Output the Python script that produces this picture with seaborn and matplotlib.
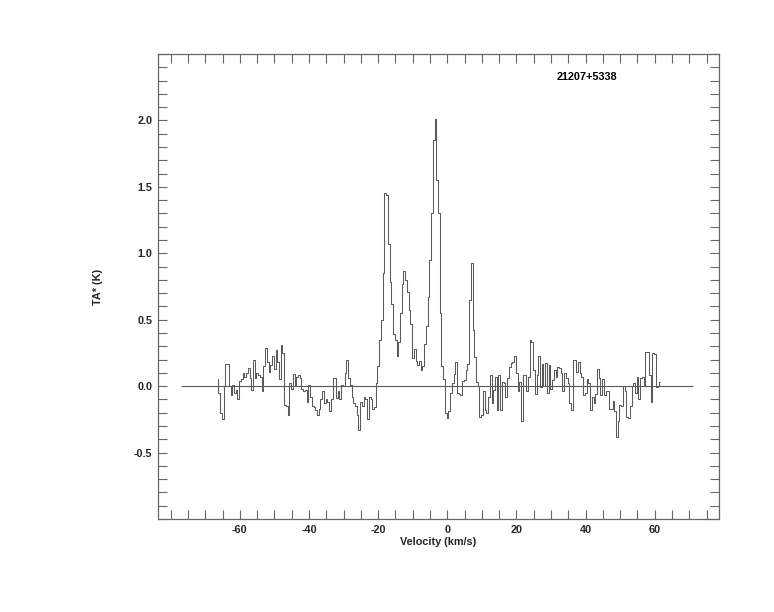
import numpy as np
import pandas as pd
import seaborn as sns
import matplotlib.pyplot as plt
from matplotlib.ticker import MultipleLocator, FixedLocator

# -----------------------------
# DATA
# -----------------------------
source_name = "21207+5338"
v_start = -66.45      # centre of first channel (km/s)
chan_width = 0.5      # km/s

ta_star = [
    0.05, -0.05, -0.20, -0.25, 0.00, 0.17, 0.17, 0.00, -0.07, 0.01,
    -0.05, -0.03, -0.10, 0.04, 0.05, 0.10, 0.07, 0.10, 0.14, 0.06,
    -0.03, 0.20, 0.06, 0.10, 0.08, 0.07, -0.04, 0.15, 0.29, 0.18,
    0.11, 0.16, 0.23, 0.13, 0.27, 0.18, 0.05, 0.31, 0.25, -0.14,
    -0.15, -0.22, 0.02, -0.02, 0.09, 0.01, 0.07, 0.08, 0.06, -0.02,
    -0.04, -0.03, -0.12, 0.01, -0.08, -0.15, -0.16, -0.18, -0.22, -0.17,
    -0.10, -0.04, -0.13, -0.10, -0.12, -0.19, -0.10, 0.06, 0.06, -0.09,
    -0.04, -0.10, 0.01, 0.00, 0.10, 0.20, 0.06, 0.01, -0.08, -0.13,
    -0.15, -0.22, -0.33, -0.12, -0.15, -0.08, -0.10, -0.25, -0.08, -0.10,
    -0.17, -0.16, 0.02, 0.15, 0.35, 0.50, 0.85, 1.45, 1.44, 1.07,
    0.78, 0.62, 0.39, 0.35, 0.23, 0.33, 0.55, 0.77, 0.87, 0.80,
    0.71, 0.57, 0.47, 0.21, 0.28, 0.19, 0.16, 0.19, 0.12, 0.15,
    0.32, 0.45, 0.67, 0.95, 1.30, 1.85, 2.01, 1.55, 1.30, 0.55,
    0.15, 0.05, -0.20, -0.24, -0.19, -0.05, 0.02, 0.09, 0.18, -0.05,
    -0.06, -0.07, 0.04, 0.045, 0.12, 0.17, 0.65, 0.93, 0.42, 0.22,
    0.03, 0.00, -0.23, -0.22, -0.04, -0.18, -0.20, -0.08, 0.08, -0.13,
    -0.03, 0.07, -0.18, 0.08, -0.18, 0.03, 0.02, -0.08, 0.06, 0.145,
    0.175, 0.18, 0.23, 0.10, -0.04, 0.03, -0.26, 0.08, 0.08, -0.04,
    0.07, 0.345, 0.33, 0.12, -0.06, 0.08, 0.225, -0.01, 0.17, 0.00,
    0.175, -0.055, 0.16, -0.02, 0.045, 0.12, 0.07, 0.145, 0.133, 0.095,
    -0.04, 0.095, 0.058, 0.02, -0.13, -0.18, 0.195, 0.20, 0.108, 0.183,
    0.095, 0.07, -0.07, -0.05, 0.05, 0.02, -0.18, -0.08, -0.13, -0.06,
    0.13, 0.06, -0.07, 0.05, -0.07, -0.04, -0.04, -0.17, -0.17, -0.11,
    -0.19, -0.38, -0.26, -0.14, -0.15, 0.00, -0.04, -0.23, -0.24, -0.15,
    0.00, 0.02, -0.055, 0.07, -0.10, 0.06, 0.07, 0.00, 0.26, 0.26,
    0.08, -0.12, 0.25, 0.24, -0.005, 0.00, 0.03,
]
velocity = v_start + chan_width * np.arange(len(ta_star))

baseline_range = [-77.0, 71.0]
x_limits = [-83.7, 78.6]
y_limits = [-1.0, 2.5]
x_labelled = [-60, -40, -20, 0, 20, 40, 60]
y_labelled = [-0.5, 0.0, 0.5, 1.0, 1.5, 2.0]

df = pd.DataFrame({"Velocity": velocity, "TA": ta_star})

# -----------------------------
# PLOT
# -----------------------------
sns.set_style("white")
plt.rcParams["font.family"] = ["Liberation Sans", "DejaVu Sans"]
plt.rcParams["font.weight"] = "bold"
plt.rcParams["axes.unicode_minus"] = False

fig = plt.figure(figsize=(7.74, 6.12), dpi=100)
ax = fig.add_axes([0.2041, 0.152, 0.7249, 0.7598])

line_col = "#5a5a5a"
frame_col = "#666666"

sns.lineplot(data=df, x="Velocity", y="TA", ax=ax, estimator=None,
             drawstyle="steps-mid", color=line_col, linewidth=0.75)
ax.hlines(0, baseline_range[0], baseline_range[1], color=line_col, linewidth=0.8)

ax.set_xlim(x_limits)
ax.set_ylim(y_limits)

ax.xaxis.set_major_locator(FixedLocator(x_labelled))
ax.xaxis.set_minor_locator(MultipleLocator(5))
ax.yaxis.set_major_locator(FixedLocator(y_labelled))
ax.yaxis.set_minor_locator(MultipleLocator(0.1))
ax.xaxis.set_major_formatter(lambda v, p: f"{v:.0f}")
ax.yaxis.set_major_formatter(lambda v, p: f"{v:.1f}")

ax.tick_params(which="both", direction="in", top=True, right=True,
               bottom=True, left=True, length=6.5, width=0.8,
               color=frame_col, labelsize=7.8, pad=4)
for side in ax.spines.values():
    side.set_color(frame_col)
    side.set_linewidth(0.9)

for lbl in ax.get_xticklabels() + ax.get_yticklabels():
    lbl.set_fontweight("bold")

ax.set_xlabel("Velocity (km/s)", fontsize=7.8, fontweight="bold", labelpad=2)
ax.set_ylabel("TA* (K)", fontsize=7.8, fontweight="bold", labelpad=22)

ax.text(31.6, 2.33, source_name, fontsize=7.8, fontweight="bold",
        ha="left", va="center", color="black")

fig.savefig("out.png", dpi=100, facecolor="white")
